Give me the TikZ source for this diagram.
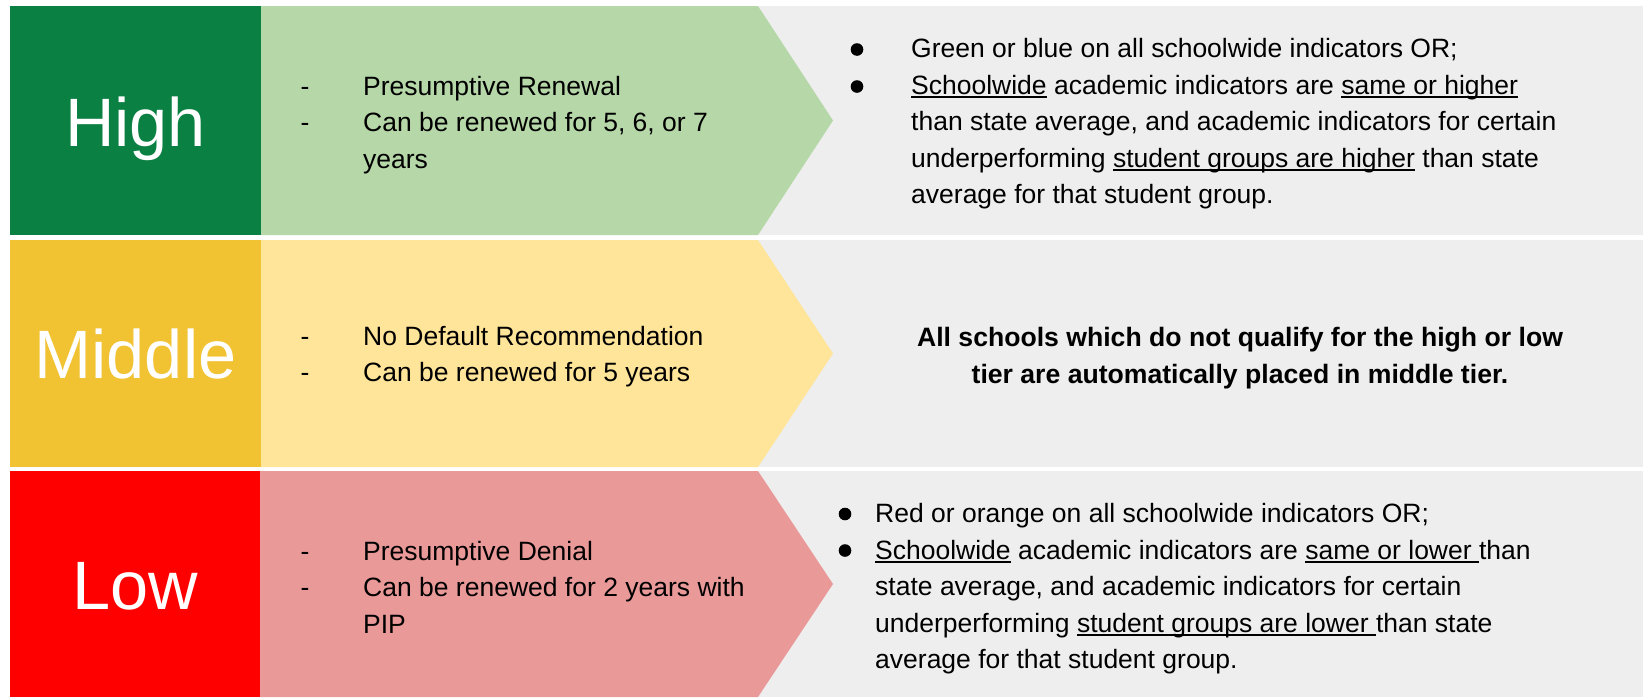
\documentclass[tikz,border=0pt]{standalone}
\usepackage{fontspec}
\setmainfont{Liberation Sans}
\usepackage{tikz}

\definecolor{highdark}{HTML}{0B8043}
\definecolor{highlight}{HTML}{B6D7A8}
\definecolor{middark}{HTML}{F1C232}
\definecolor{midlight}{HTML}{FFE599}
\definecolor{lowdark}{HTML}{FF0000}
\definecolor{lowlight}{HTML}{EA9999}
\definecolor{rulebg}{HTML}{EEEEEE}

\newsavebox\ulbox
\newcommand\ulx[1]{\sbox\ulbox{#1}\rlap{\rule[-.14em]{\wd\ulbox}{.06em}}\usebox\ulbox}

\begin{document}
\begin{tikzpicture}[x=1pt,y=-1pt,
  tier/.style={text=white,anchor=base,inner sep=0pt,font=\fontsize{68.5}{80}\selectfont},
  body/.style={anchor=base west,align=left,inner sep=0pt,font=\fontsize{26.5}{36.5}\selectfont},
  bold/.style={anchor=base,align=center,inner sep=0pt,font=\fontsize{26.6}{36.5}\selectfont\bfseries}]
\useasboundingbox (0,0) rectangle (1649,697);
\fill[white] (0,0) rectangle (1649,697);

\fill[rulebg] (758,6) rectangle (1643,235);
\fill[highdark] (10,6) rectangle (261,235);
\fill[highlight] (261,6) -- (758,6) -- (833,120.5) -- (758,235) -- (261,235) -- cycle;
\node[tier] (high) at (135.5,146) {High};
\node[body] (highdash) at (300.5,131.5) {-\\-};
\node[body] (highplan) at (363,168) {Presumptive Renewal\\Can be renewed for 5, 6, or 7\\years};
\fill (857,49.5) circle (6.3) (857,86.5) circle (6.3);
\node[body] (highrule) at (911,203.5)
  {Green or blue on all schoolwide indicators OR;\\
   \ulx{Schoolwide} academic indicators are \ulx{same or higher}\\
   than state average, and academic indicators for certain\\
   underperforming \ulx{student groups are higher} than state\\
   average for that student group.};

\fill[rulebg] (758,240) rectangle (1643,467);
\fill[middark] (10,240) rectangle (261,467);
\fill[midlight] (261,240) -- (758,240) -- (833,353.5) -- (758,467) -- (261,467) -- cycle;
\node[tier] (middle) at (135.5,378.5) {Middle};
\node[body] (middash) at (300.5,381.5) {-\\-};
\node[body] (midplan) at (363,381.5) {No Default Recommendation\\Can be renewed for 5 years};
\node[bold] (midrule) at (1240,383)
  {All schools which do not qualify for the high or low\\
   tier are automatically placed in middle tier.};

\fill[rulebg] (758,471) rectangle (1643,697);
\fill[lowdark] (10,471) rectangle (260,697);
\fill[lowlight] (260,471) -- (758,471) -- (833,584) -- (758,697) -- (260,697) -- cycle;
\node[tier] (low) at (135.5,609.5) {Low};
\node[body] (lowdash) at (300.5,596.5) {-\\-};
\node[body] (lowplan) at (363,633) {Presumptive Denial\\Can be renewed for 2 years with\\PIP};
\fill (845,514) circle (6.3) (845,550.5) circle (6.3);
\node[body] (lowrule) at (875,668.5)
  {Red or orange on all schoolwide indicators OR;\\
   \ulx{Schoolwide} academic indicators are \ulx{same or lower\ }than\\
   state average, and academic indicators for certain\\
   underperforming \ulx{student groups are lower\ }than state\\
   average for that student group.};
\end{tikzpicture}
\end{document}
